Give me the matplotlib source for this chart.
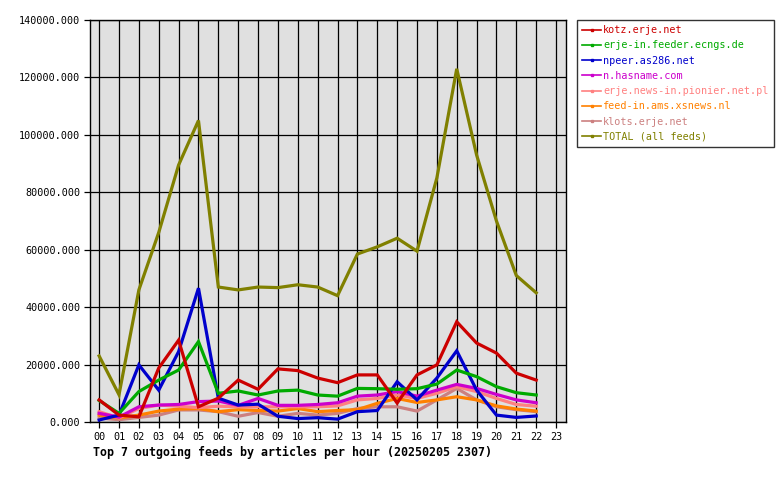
import matplotlib
matplotlib.use("Agg")
import matplotlib.pyplot as plt
from matplotlib.lines import Line2D

hours = list(range(23))
hour_labels = ["%02d" % h for h in range(24)]

feeds = ["kotz.erje.net", "erje-in.feeder.ecngs.de", "npeer.as286.net",
         "n.hasname.com", "erje.news-in.pionier.net.pl", "feed-in.ams.xsnews.nl",
         "klots.erje.net", "TOTAL (all feeds)"]
colors = ["#cc0000", "#00aa00", "#0000cc", "#cc00cc", "#ff8080", "#ff8000",
          "#cc8080", "#808000"]

kotz = [7700, 2400, 1800, 18800, 28500, 5300, 8300, 14600, 11400, 18500, 17900, 15300,
        13700, 16400, 16400, 6600, 16400, 19900, 34900, 27500, 24000, 17000, 14600]
ecngs = [7500, 3000, 10600, 14600, 18100, 28000, 10000, 10800, 9400, 10800, 11100, 9400,
         9000, 11700, 11600, 11400, 11600, 13200, 18100, 15800, 12300, 10200, 9400]
npeer = [700, 2400, 19900, 11100, 24500, 46600, 8300, 5900, 6200, 2000, 1200, 1500,
         1000, 3600, 4000, 14000, 7700, 15300, 24800, 11100, 2400, 1600, 2100]
hasname = [3000, 1700, 5300, 5900, 6100, 7100, 7300, 5800, 8200, 5800, 5800, 6100,
           6700, 9000, 9400, 10600, 9000, 11100, 13100, 11700, 9600, 7700, 6700]
pionier = [3600, 1400, 4700, 5900, 5500, 5000, 5500, 5300, 5300, 5300, 5300, 5300,
           5600, 7700, 8200, 9400, 8200, 10000, 12300, 10600, 8200, 6100, 5500]
xsnews = [2400, 1400, 2400, 3800, 4500, 4700, 3600, 4300, 4000, 3800, 4700, 3600,
          4000, 4300, 6500, 8200, 6800, 7700, 8800, 7700, 5600, 4500, 3800]
klots = [1400, 800, 1600, 2400, 4200, 4200, 3600, 2000, 3300, 2000, 3000, 2400,
         3000, 4700, 5300, 5300, 3800, 7700, 11700, 7700, 5300, 4300, 3600]
total = [23000, 9500, 46000, 66000, 89500, 105000, 47000, 46000, 47000, 46800, 47800, 47000,
         44000, 58500, 61000, 64000, 59500, 85000, 123000, 93000, 70000, 51000, 45000]

series = [kotz, ecngs, npeer, hasname, pionier, xsnews, klots, total]

plt.rcParams['font.family'] = ['DejaVu Sans Mono']
fig = plt.figure(figsize=(7.8, 4.8), dpi=100)
ax = fig.add_axes([90 / 780, 58 / 480, 476 / 780, 402 / 480])
ax.set_facecolor("#e0e0e0")

# klots first, TOTAL and kotz end up on top
for vals, col in reversed(list(zip(series, colors))):
    ax.plot(hours, vals, color=col, linewidth=2.3, solid_joinstyle='miter', zorder=3)

ax.set_xlim(-0.46, 23.5)
ax.set_ylim(0, 140000)
ax.set_xticks(range(24))
ax.set_xticklabels(hour_labels)
ax.set_yticks(range(0, 140001, 20000))
ax.set_yticklabels(["%d.000" % v for v in range(0, 140001, 20000)])
ax.grid(True, color="black", linewidth=0.9, zorder=1)
ax.set_axisbelow(True)
for s in ax.spines.values():
    s.set_linewidth(1.0)
ax.tick_params(direction="out", length=4, width=0.9, labelsize=7.3, pad=3)

fig.text(93 / 780, 1 - 452 / 480, "Top 7 outgoing feeds by articles per hour (20250205 2307)",
         fontsize=8.35, fontweight="bold", va="center", ha="left")

handles = [Line2D([0], [0], color=c, linewidth=1.2, marker="s", markersize=2.0)
           for c in colors]
leg = fig.legend(handles, feeds, loc="upper left",
                 bbox_to_anchor=(577 / 780, 1 - 20 / 480), fontsize=7.3,
                 labelcolor=colors, frameon=True, fancybox=False,
                 edgecolor="black", handlelength=1.9, handletextpad=0.2,
                 borderpad=0.5, labelspacing=0.52, borderaxespad=0)
leg.get_frame().set_linewidth(1.0)

fig.savefig("out.png", dpi=100)
